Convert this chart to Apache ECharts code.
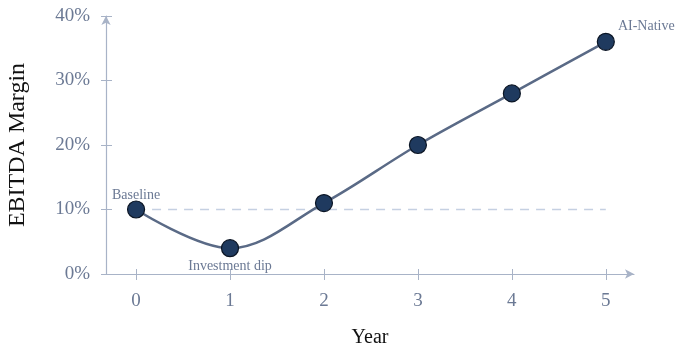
<!DOCTYPE html>
<html><head><meta charset="utf-8">
<script src="https://cdn.jsdelivr.net/npm/echarts@6/dist/echarts.min.js"></script>
<style>html,body{margin:0;padding:0;background:#fff}#c{width:680px;height:349px}</style>
</head><body><div id="c"></div>
<script>
const years = [0, 1, 2, 3, 4, 5];
const margins = [10, 4, 11, 20, 28, 36];
const pointLabels = ['Baseline', 'Investment dip', '', '', '', 'AI-Native'];
const yTicks = [0, 10, 20, 30, 40];
const baselineValue = 10;

const axisColor = '#a8b3c7';
const textColor = '#6b7994';
const font = 'Liberation Serif';

const labelPos = {
  'Baseline': {position: 'top', distance: 4, offset: [0, 6]},
  'Investment dip': {position: 'bottom', distance: 2},
  'AI-Native': {position: 'right', distance: 3, offset: [0, -15]}
};

const data = years.map((x, i) => {
  const item = {value: [x, margins[i]]};
  const t = pointLabels[i];
  if (t) {
    item.label = Object.assign({show: true, formatter: t, fontFamily: font, fontSize: 14, color: textColor}, labelPos[t]);
  }
  return item;
});

const chart = echarts.init(document.getElementById('c'));
chart.setOption({
  animation: false,
  grid: {left: 106, right: 46, top: 16, bottom: 75, outerBoundsMode: 'none', containLabel: false},
  xAxis: [{
    type: 'value', min: -0.32, max: 5.3,
    name: 'Year', nameLocation: 'middle', nameGap: 54,
    nameTextStyle: {fontFamily: font, fontSize: 20, color: '#111'},
    axisLine: {show: true, onZero: false, symbol: ['none', 'arrow'], symbolSize: [7, 9], lineStyle: {color: axisColor, width: 1.2}},
    axisTick: {show: true, length: 6, customValues: years, lineStyle: {color: axisColor}},
    axisLabel: {customValues: years, margin: 18, fontFamily: font, fontSize: 19, color: textColor},
    splitLine: {show: false}
  }, {
    type: 'value', min: -0.32, max: 5.3, position: 'bottom',
    axisLine: {show: false, onZero: false},
    axisTick: {show: true, inside: true, length: 5, customValues: years, lineStyle: {color: axisColor}},
    axisLabel: {show: false},
    splitLine: {show: false}
  }],
  yAxis: [{
    type: 'value', min: 0, max: 40, interval: 10,
    name: 'EBITDA Margin', nameLocation: 'middle', nameGap: 76, nameRotate: 90,
    nameTextStyle: {fontFamily: font, fontSize: 24, color: '#111'},
    axisLine: {show: true, onZero: false, symbol: ['none', 'arrow'], symbolSize: [7, 9], lineStyle: {color: axisColor, width: 1.2}},
    axisTick: {show: true, length: 5, lineStyle: {color: axisColor}},
    axisLabel: {margin: 16, fontFamily: font, fontSize: 19, color: textColor, formatter: v => yTicks.includes(v) ? v + '%' : ''},
    splitLine: {show: false}
  }, {
    type: 'value', min: 0, max: 40, interval: 10, position: 'left',
    axisLine: {show: false, onZero: false},
    axisTick: {show: true, inside: true, length: 6, lineStyle: {color: axisColor}},
    axisLabel: {show: false},
    splitLine: {show: false}
  }],
  series: [{
    type: 'line',
    data: [[years[0], baselineValue], [years[years.length - 1], baselineValue]],
    symbol: 'none', silent: true, z: 1,
    lineStyle: {color: '#c5d0e2', width: 1.5, type: [9, 7]}
  }, {
    type: 'line', data: data, smooth: 0.35, z: 3,
    symbol: 'circle', symbolSize: 17,
    lineStyle: {color: '#5a6a86', width: 2.5},
    itemStyle: {color: '#1f3a5f', borderColor: '#0b1524', borderWidth: 1.2}
  }]
});
</script></body></html>
